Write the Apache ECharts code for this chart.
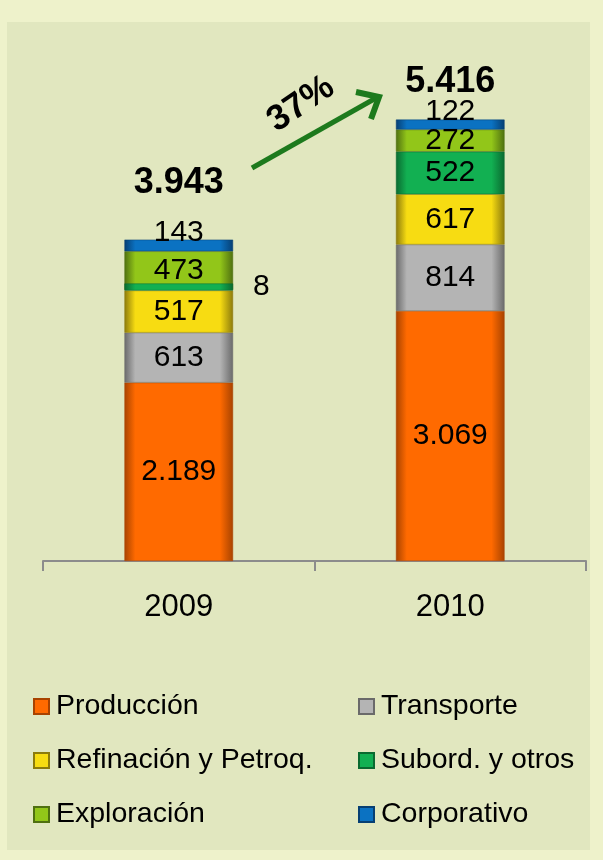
<!DOCTYPE html>
<html>
<head>
<meta charset="utf-8">
<script src="https://cdn.jsdelivr.net/npm/echarts@6/dist/echarts.min.js"></script>
<style>
  html, body { margin: 0; padding: 0; background: #eef2cb; }
  #chart { width: 603px; height: 860px; }
</style>
</head>
<body>
<div id="chart"></div>
<script>
const categories = ['2009', '2010']
const seriesNames = ['Producción', 'Transporte', 'Refinación y Petroq.', 'Subord. y otros', 'Exploración', 'Corporativo']
const produccion = [2189, 3069]
const transporte = [613, 814]
const refinacion = [517, 617]
const subord = [8, 522]
const exploracion = [473, 272]
const corporativo = [143, 122]

const values = [produccion, transporte, refinacion, subord, exploracion, corporativo]
const totals = categories.map((c, i) => values.reduce((s, arr) => s + arr[i], 0))
const growth = Math.round((totals[1] / totals[0] - 1) * 100)

// base / dark colour for the bevel look
const colors = [
  ['#ff6a00', '#a84300'],
  ['#b4b4b4', '#6a6a6a'],
  ['#f7dc12', '#8c7b0c'],
  ['#12b052', '#0a6a30'],
  ['#92c619', '#4f7010'],
  ['#0b72c2', '#063f73']
]

const FONT = '"Liberation Sans", Arial, sans-serif'

function fmt(v) {
  return String(v).replace(/\B(?=(\d{3})+(?!\d))/g, '.')
}

function bevel(c) {
  return {
    type: 'linear', x: 0, y: 0, x2: 1, y2: 0,
    colorStops: [
      { offset: 0, color: c[1] },
      { offset: 0.1, color: c[0] },
      { offset: 0.88, color: c[0] },
      { offset: 1, color: c[1] }
    ]
  }
}

const barSeries = seriesNames.map((name, k) => {
  const s = {
    name: name,
    type: 'bar',
    stack: 'total',
    barWidth: '40%',
    itemStyle: { color: bevel(colors[k]), borderColor: colors[k][1], borderWidth: 0.5 },
    label: {
      show: true,
      position: 'inside',
      formatter: p => fmt(p.value),
      fontSize: 30,
      fontFamily: FONT,
      color: '#000'
    },
    data: values[k].slice()
  }
  if (name === 'Subord. y otros') {
    s.barMinHeight = 7
    s.z = 3
    s.data = values[k].map((v, i) => i === 0
      ? { value: v, label: { position: 'right', distance: 20 } }
      : v)
  }
  if (name === 'Corporativo') {
    s.data = values[k].map(v => ({ value: v, label: { offset: [0, -13] } }))
  }
  return s
})

const totalSeries = {
  name: 'Total',
  type: 'scatter',
  symbolSize: 1,
  itemStyle: { color: 'transparent', opacity: 1 },
  label: {
    show: true,
    position: 'top',
    formatter: p => fmt(p.value),
    fontSize: 36,
    fontWeight: 'bold',
    fontFamily: FONT,
    color: '#000'
  },
  data: totals.map((t, i) => ({ value: t, label: { distance: i === 0 ? 38 : 19 } })),
  z: 5
}

const legendBase = {
  orient: 'vertical', top: 692, itemGap: 25, icon: 'rect', padding: 0,
  itemWidth: 15, itemHeight: 15, selectedMode: false,
  textStyle: { fontSize: 28.5, fontFamily: FONT, color: '#000', padding: [0, 0, 0, 2] }
}

const chart = echarts.init(document.getElementById('chart'))
chart.setOption({
  backgroundColor: '#eef2cb',
  animation: false,
  graphic: [
    { type: 'rect', z: -10, shape: { x: 7, y: 22, width: 583, height: 828 }, style: { fill: '#e1e7bf' } },
    { type: 'line', z: 10, shape: { x1: 252, y1: 168, x2: 376, y2: 98 },
      style: { stroke: '#1d7a1d', lineWidth: 5 } },
    { type: 'polyline', z: 10, shape: { points: [[356, 92], [379, 97], [371, 119]] },
      style: { stroke: '#1d7a1d', lineWidth: 6, fill: null, lineJoin: 'miter' } },
    { type: 'text', z: 10, x: 301, y: 104, rotation: 0.6,
      style: { text: growth + '%', font: 'bold 36px ' + FONT, fill: '#000', align: 'center', verticalAlign: 'middle' } }
  ],
  legend: [
    Object.assign({}, legendBase, { data: [seriesNames[0], seriesNames[2], seriesNames[4]], left: 33 }),
    Object.assign({}, legendBase, { data: [seriesNames[1], seriesNames[3], seriesNames[5]], left: 358 })
  ],
  grid: { left: 43, right: 17, top: 72, bottom: 299 },
  xAxis: {
    type: 'category',
    data: categories,
    axisLine: { lineStyle: { color: '#8c8c8c', width: 2 } },
    axisTick: { show: true, length: 10, lineStyle: { color: '#8c8c8c', width: 2 } },
    axisLabel: { fontSize: 31, fontFamily: FONT, color: '#000', margin: 31 }
  },
  yAxis: { type: 'value', min: 0, max: 6000, show: false, splitLine: { show: false } },
  series: barSeries.concat([totalSeries])
})
</script>
</body>
</html>
